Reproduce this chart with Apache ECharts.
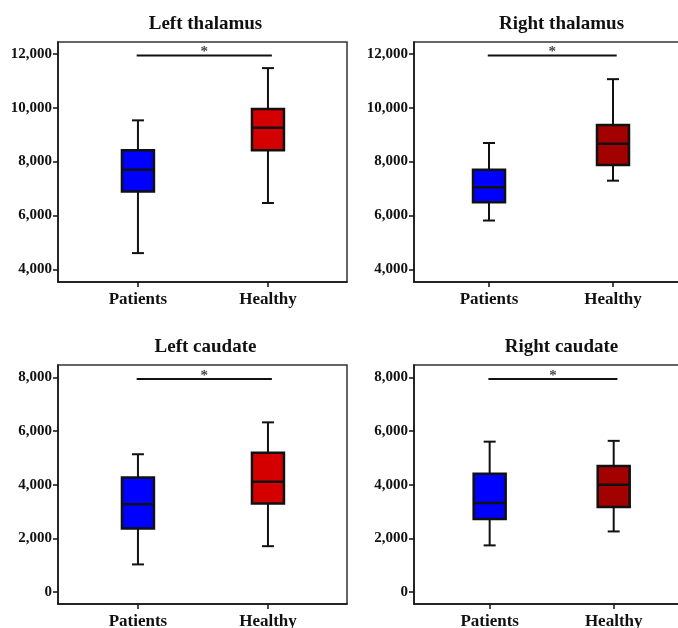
<!DOCTYPE html>
<html>
<head>
<meta charset="utf-8">
<script src="https://cdn.jsdelivr.net/npm/echarts@6/dist/echarts.min.js"></script>
<style>
  html, body { margin: 0; padding: 0; background: #fff; }
  #chart { width: 678px; height: 628px; }
</style>
</head>
<body>
<div id="chart"></div>
<script>
// group labels along x
const groups = ['Patients', 'Healthy'];
const panelTitles = ['Left thalamus', 'Right thalamus', 'Left caudate', 'Right caudate'];

// [min, Q1, median, Q3, max] per group
const leftThalamus = [
    [4600, 6890, 7700, 8420, 9530],
    [6460, 8420, 9260, 9950, 11470]
];
const rightThalamus = [
    [5810, 6490, 7050, 7700, 8690],
    [7290, 7870, 8660, 9360, 11060]
];
const leftCaudate = [
    [1030, 2370, 3270, 4270, 5140],
    [1710, 3300, 4110, 5200, 6330]
];
const rightCaudate = [
    [1740, 2720, 3320, 4410, 5610],
    [2260, 3170, 4000, 4700, 5640]
];

// significance bar height per panel
const sigLevels = [11940, 11940, 7950, 7950];
const sigSpan = [0.99, 2.03];

const thalamusTicks = [4000, 6000, 8000, 10000, 12000];
const caudateTicks = [0, 2000, 4000, 6000, 8000];

const panels = [
    { data: leftThalamus, ticks: thalamusTicks, yMin: 3527, yMax: 12440, xMin: 0.385, xMax: 2.608,
      rect: { left: 58, top: 42, width: 289, height: 240 }, colors: ['#0000ff', '#d40000'] },
    { data: rightThalamus, ticks: thalamusTicks, yMin: 3527, yMax: 12440, xMin: 0.395, xMax: 2.726,
      rect: { left: 414, top: 42, width: 289, height: 240 }, colors: ['#0000ff', '#a30000'] },
    { data: leftCaudate, ticks: caudateTicks, yMin: -447, yMax: 8470, xMin: 0.385, xMax: 2.608,
      rect: { left: 58, top: 365, width: 289, height: 239 }, colors: ['#0000ff', '#d40000'] },
    { data: rightCaudate, ticks: caudateTicks, yMin: -447, yMax: 8470, xMin: 0.39, xMax: 2.72,
      rect: { left: 414, top: 365, width: 289, height: 239 }, colors: ['#0000ff', '#a30000'] }
];

const serif = '"Liberation Serif", "Times New Roman", serif';
const ink = '#111';

function makeBoxRenderer(colors) {
    return function (params, api) {
        const x = api.value(0);
        const lo = api.coord([x, api.value(1)]);
        const q1 = api.coord([x, api.value(2)]);
        const md = api.coord([x, api.value(3)]);
        const q3 = api.coord([x, api.value(4)]);
        const hi = api.coord([x, api.value(5)]);
        const cx = lo[0];
        const half = 16;
        const cap = 6;
        const stroke = { stroke: ink, lineWidth: 2 };
        return {
            type: 'group',
            children: [
                { type: 'line', shape: { x1: cx, y1: lo[1], x2: cx, y2: hi[1] }, style: stroke },
                { type: 'line', shape: { x1: cx - cap, y1: lo[1], x2: cx + cap, y2: lo[1] }, style: stroke },
                { type: 'line', shape: { x1: cx - cap, y1: hi[1], x2: cx + cap, y2: hi[1] }, style: stroke },
                { type: 'rect', shape: { x: cx - half, y: q3[1], width: half * 2, height: q1[1] - q3[1] },
                  style: { fill: colors[params.dataIndex], stroke: ink, lineWidth: 2.5 } },
                { type: 'line', shape: { x1: cx - half, y1: md[1], x2: cx + half, y2: md[1] }, style: { stroke: ink, lineWidth: 2.5 } }
            ]
        };
    };
}

const option = {
    backgroundColor: '#fff',
    animation: false,
    title: [],
    grid: [],
    xAxis: [],
    yAxis: [],
    series: []
};

panels.forEach((p, i) => {
    option.title.push({
        text: panelTitles[i],
        left: p.rect.left + p.rect.width / 2 - 2,
        top: p.rect.top - 32,
        textAlign: 'center',
        textStyle: { fontFamily: serif, fontWeight: 'bold', fontSize: 19, color: ink }
    });
    option.grid.push(Object.assign({
        show: true,
        borderColor: '#333',
        borderWidth: 1.5,
        outerBoundsMode: 'none',
        containLabel: false
    }, p.rect));
    option.xAxis.push({
        type: 'value',
        gridIndex: i,
        min: p.xMin,
        max: p.xMax,
        splitLine: { show: false },
        axisLine: { show: true, onZero: false, lineStyle: { color: ink, width: 1.5 } },
        axisTick: { show: true, length: 5, customValues: [1, 2], lineStyle: { color: ink, width: 1.5 } },
        axisLabel: {
            customValues: [1, 2],
            margin: 9,
            formatter: (v) => groups[Math.round(v) - 1] || '',
            fontFamily: serif, fontWeight: 'bold', fontSize: 17, color: ink
        }
    });
    option.yAxis.push({
        type: 'value',
        gridIndex: i,
        min: p.yMin,
        max: p.yMax,
        splitLine: { show: false },
        axisLine: { show: true, onZero: false, lineStyle: { color: ink, width: 1.5 } },
        axisTick: { show: true, length: 5, customValues: p.ticks, lineStyle: { color: ink, width: 1.5 } },
        axisLabel: {
            customValues: p.ticks,
            margin: 6,
            formatter: (v) => v.toLocaleString('en-US'),
            fontFamily: serif, fontWeight: 'bold', fontSize: 15, color: ink
        }
    });
    option.series.push({
        type: 'custom',
        xAxisIndex: i,
        yAxisIndex: i,
        renderItem: makeBoxRenderer(p.colors),
        data: p.data.map((d, k) => [k + 1].concat(d))
    });
    option.series.push({
        type: 'line',
        xAxisIndex: i,
        yAxisIndex: i,
        symbol: 'none',
        lineStyle: { color: ink, width: 2 },
        data: [[sigSpan[0], sigLevels[i]], [sigSpan[1], sigLevels[i]]]
    });
    option.series.push({
        type: 'scatter',
        xAxisIndex: i,
        yAxisIndex: i,
        symbolSize: 1,
        itemStyle: { color: 'transparent' },
        label: {
            show: true,
            position: 'inside',
            offset: [0, -3],
            formatter: '*',
            fontFamily: serif, fontWeight: 'bold', fontSize: 15, color: ink
        },
        data: [[(sigSpan[0] + sigSpan[1]) / 2, sigLevels[i]]]
    });
});

const chart = echarts.init(document.getElementById('chart'));
chart.setOption(option);
</script>
</body>
</html>
